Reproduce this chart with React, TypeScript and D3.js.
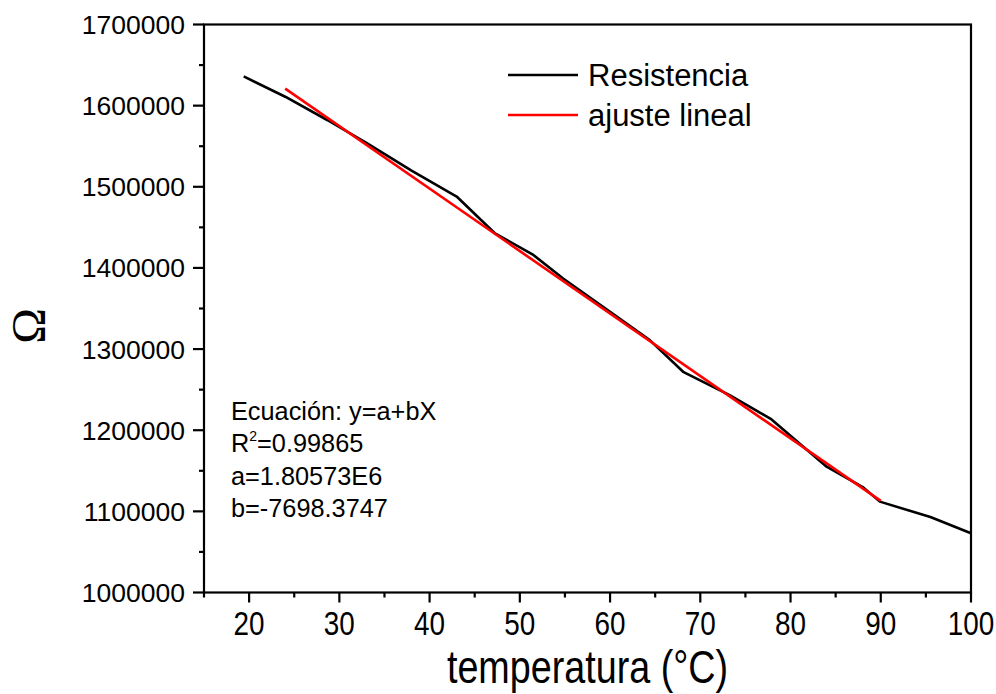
import React from 'react';
import * as d3 from 'd3';

const temperature = [19.4, 24.0, 28.7, 33.0, 38.0, 43.0, 47.2, 51.5, 54.8, 60.0, 64.4, 68.1, 73.3, 77.8, 84.0, 88.0, 89.9, 95.5, 100.0];
const resistance = [1636000, 1611000, 1582000, 1554000, 1520000, 1488000, 1443000, 1416000, 1387000, 1346000, 1311000, 1272000, 1243000, 1214000, 1155000, 1130000, 1112000, 1093000, 1073000];
const fitA = 1805730;
const fitB = -7698.3747;
const fitRange = [24, 90];
const xTicks = [20, 30, 40, 50, 60, 70, 80, 90, 100];
const xMinorTicks = [15, 25, 35, 45, 55, 65, 75, 85, 95];
const yTicks = [1000000, 1100000, 1200000, 1300000, 1400000, 1500000, 1600000, 1700000];
const yMinorTicks = [1050000, 1150000, 1250000, 1350000, 1450000, 1550000, 1650000];
const legendLabels = ['Resistencia', 'ajuste lineal'];
const equationLines = ['Ecuación: y=a+bX', '=0.99865', 'a=1.80573E6', 'b=-7698.3747'];

const W = 996;
const H = 694;
const L = 204, R = 971, T = 24.5, B = 592.5;
const sans = "'Liberation Sans', Arial, sans-serif";
const NARROW = 0.82;

export default function App() {
  const x = d3.scaleLinear().domain([15, 100]).range([L, R]);
  const y = d3.scaleLinear().domain([1000000, 1700000]).range([B, T]);
  const dataPts: [number, number][] = temperature.map((t, i) => [t, resistance[i]]);
  const line = d3.line<[number, number]>().x(d => x(d[0])).y(d => y(d[1]));
  const fitPts: [number, number][] = fitRange.map(t => [t, fitA + fitB * t]);

  return (
    <svg width={W} height={H} style={{ position: 'absolute', left: 0, top: 0, background: '#fff' }}>
      <rect x={0} y={0} width={W} height={H} fill="#fff" />
      {/* data */}
      <path d={line(dataPts) || ''} fill="none" stroke="#000" strokeWidth={2.6} strokeLinejoin="round" />
      <path d={line(fitPts) || ''} fill="none" stroke="#ff0000" strokeWidth={2.6} />
      {/* frame */}
      <rect x={L} y={T} width={R - L} height={B - T} fill="none" stroke="#000" strokeWidth={2.2} />
      {/* x ticks */}
      {xTicks.map(t => (
        <g key={'xt' + t}>
          <line x1={x(t)} x2={x(t)} y1={B} y2={B + 10} stroke="#000" strokeWidth={2.2} />
          <text transform={`translate(${x(t)},635) scale(${NARROW},1)`} textAnchor="middle" fontFamily={sans} fontSize={34} fill="#000">{t}</text>
        </g>
      ))}
      {xMinorTicks.map(t => (
        <line key={'xm' + t} x1={x(t)} x2={x(t)} y1={B} y2={B + 5} stroke="#000" strokeWidth={2.2} />
      ))}
      {/* y ticks */}
      {yTicks.map(t => (
        <g key={'yt' + t}>
          <line x1={L - 11} x2={L} y1={y(t)} y2={y(t)} stroke="#000" strokeWidth={2.2} />
          <text x={185} y={y(t)} dy="0.36em" textAnchor="end" fontFamily={sans} fontSize={26.5} fill="#000">{t}</text>
        </g>
      ))}
      {yMinorTicks.map(t => (
        <line key={'ym' + t} x1={L - 5} x2={L} y1={y(t)} y2={y(t)} stroke="#000" strokeWidth={2.2} />
      ))}
      {/* axis titles */}
      <text transform={`translate(${(L + R) / 2},683) scale(${NARROW},1)`} textAnchor="middle" fontFamily={sans} fontSize={46} fill="#000">temperatura (°C)</text>
      <text transform="translate(45,326) rotate(-90)" textAnchor="middle" fontFamily="'Liberation Serif', 'Times New Roman', serif" fontSize={48} fill="#000">Ω</text>
      {/* legend */}
      <line x1={508} x2={578} y1={75} y2={75} stroke="#000" strokeWidth={2.6} />
      <text x={588} y={86} fontFamily={sans} fontSize={31} fill="#000">{legendLabels[0]}</text>
      <line x1={508} x2={578} y1={115} y2={115} stroke="#ff0000" strokeWidth={2.6} />
      <text x={588} y={126} fontFamily={sans} fontSize={31} fill="#000">{legendLabels[1]}</text>
      {/* equation */}
      <g fontFamily={sans} fontSize={25.3} fill="#000">
        <text x={231} y={419.5}>{equationLines[0]}</text>
        <text x={231} y={452}>R<tspan fontSize={14} dy={-11}>2</tspan><tspan dy={11}>{equationLines[1]}</tspan></text>
        <text x={231} y={484.5}>{equationLines[2]}</text>
        <text x={231} y={517}>{equationLines[3]}</text>
      </g>
    </svg>
  );
}
